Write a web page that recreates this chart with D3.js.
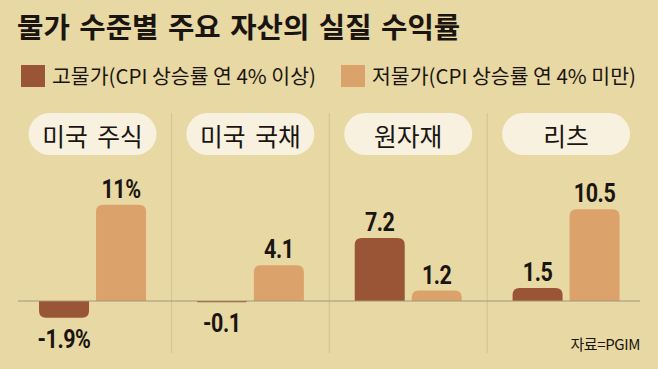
<!DOCTYPE html>
<html>
<head>
<meta charset="utf-8">
<script src="https://cdn.jsdelivr.net/npm/d3@7"></script>
<style>
  html, body { margin: 0; padding: 0; background: #e8d8a3; }
  svg { display: block; }
</style>
</head>
<body>
<div id="chart"></div>
<script>
// 자산군과 물가 구간별 실질 수익률(%)
const categories = ["미국 주식", "미국 국채", "원자재", "리츠"];
const seriesNames = ["고물가(CPI 상승률 연 4% 이상)", "저물가(CPI 상승률 연 4% 미만)"];
const highInflation = [-1.9, -0.1, 7.2, 1.5];
const lowInflation = [11, 4.1, 1.2, 10.5];
const highLabels = ["-1.9%", "-0.1", "7.2", "1.5"];
const lowLabels = ["11%", "4.1", "1.2", "10.5"];

const width = 658, height = 369;
const colors = ["#995535", "#dba36b"];
const fontKr = "'Noto Sans CJK KR', 'Noto Sans', sans-serif";
const fontNum = "Roboto, 'Liberation Sans', sans-serif";

const svg = d3.select("#chart").append("svg")
  .attr("width", width)
  .attr("height", height);

svg.append("rect")
  .attr("width", width).attr("height", height)
  .attr("fill", "#e8d8a3");

// 글자 폭을 원본에 맞춰 글꼴 크기 조정
function fitSize(sel, target) {
  const fs = +sel.attr("font-size");
  const w = sel.node().getBBox().width;
  if (w > 0) sel.attr("font-size", fs * target / w);
  return +sel.attr("font-size");
}

// 제목
const title = svg.append("text")
  .attr("x", 17).attr("y", 38)
  .attr("font-family", fontKr)
  .attr("font-weight", 700)
  .attr("font-size", 26)
  .attr("word-spacing", 3)
  .attr("fill", "#1a1510")
  .text("물가 수준별 주요 자산의 실질 수익률");
fitSize(title, 445);

// 범례
const legend = svg.append("g");
const legendX = [21, 341];
seriesNames.forEach((name, i) => {
  legend.append("rect")
    .attr("x", legendX[i]).attr("y", 65)
    .attr("width", 24).attr("height", 22)
    .attr("fill", colors[i]);
  const t = legend.append("text")
    .attr("x", legendX[i] + 31).attr("y", 84)
    .attr("font-family", fontKr)
    .attr("font-size", 20)
    .attr("fill", "#1a1510")
    .text(name);
  fitSize(t, 264);
});

// 스케일
const x = d3.scaleBand()
  .domain(categories)
  .range([13.6, 645]);

const xInner = d3.scaleBand()
  .domain([0, 1])
  .range([-53.5, 53.5])
  .paddingInner(7 / 57);

const y = d3.scaleLinear()
  .domain([-2, 12])
  .range([318.5, 196]);

// 구분선
svg.selectAll("line.divider")
  .data(categories.slice(1))
  .enter()
  .append("line")
  .attr("class", "divider")
  .attr("x1", d => x(d)).attr("x2", d => x(d))
  .attr("y1", 113).attr("y2", 353)
  .attr("stroke", "#d3c292")
  .attr("stroke-width", 1);

// 자산 이름 라벨
const pills = svg.selectAll("g.pill")
  .data(categories)
  .enter()
  .append("g")
  .attr("class", "pill")
  .attr("transform", d => `translate(${x(d) + x.bandwidth() / 2},0)`);

pills.append("rect")
  .attr("x", -64).attr("y", 113)
  .attr("width", 128).attr("height", 42)
  .attr("rx", 21)
  .attr("fill", "#f8f1e0");

const pillText = pills.append("text")
  .attr("y", 135)
  .attr("text-anchor", "middle")
  .attr("dominant-baseline", "central")
  .attr("font-family", fontKr)
  .attr("font-size", 23)
  .attr("word-spacing", 4)
  .attr("fill", "#1a1510")
  .text(d => d);
const pillSize = fitSize(d3.select(pillText.nodes()[0]), 101);
pillText.attr("font-size", pillSize);

// 막대 (바깥쪽 모서리만 둥글게)
function barPath(x0, w, v) {
  const y0 = y(0), y1 = y(v);
  const h = Math.abs(y1 - y0);
  const r = Math.min(7, h, w / 2);
  if (v >= 0) {
    return `M${x0},${y0} V${y1 + r} Q${x0},${y1} ${x0 + r},${y1} H${x0 + w - r} Q${x0 + w},${y1} ${x0 + w},${y1 + r} V${y0} Z`;
  }
  return `M${x0},${y0} V${y1 - r} Q${x0},${y1} ${x0 + r},${y1} H${x0 + w - r} Q${x0 + w},${y1} ${x0 + w},${y1 - r} V${y0} Z`;
}

const bars = [];
categories.forEach((c, i) => {
  bars.push({ cat: c, s: 0, v: highInflation[i], label: highLabels[i] });
  bars.push({ cat: c, s: 1, v: lowInflation[i], label: lowLabels[i] });
});

const bx = d => x(d.cat) + x.bandwidth() / 2 + xInner(d.s);

svg.selectAll("path.bar")
  .data(bars)
  .enter()
  .append("path")
  .attr("class", "bar")
  .attr("d", d => {
    const v = Math.abs(y(d.v) - y(0)) < 1.2 ? (d.v < 0 ? -1.2 / 8.75 : 1.2 / 8.75) : d.v;
    return barPath(bx(d), xInner.bandwidth(), v);
  })
  .attr("fill", d => colors[d.s]);

// 기준선
svg.append("line")
  .attr("x1", 18).attr("x2", 640)
  .attr("y1", y(0)).attr("y2", y(0))
  .attr("stroke", "#a2967a")
  .attr("stroke-width", 1);

// 값 라벨 (좁은 숫자체 느낌으로 가로 압축)
svg.selectAll("text.value")
  .data(bars)
  .enter()
  .append("text")
  .attr("class", "value")
  .attr("transform", d => {
    const tx = bx(d) + xInner.bandwidth() / 2;
    const ty = d.v >= 0 ? y(d.v) - 7 : y(d.v) + 30;
    return `translate(${tx},${ty}) scale(0.86,1)`;
  })
  .attr("text-anchor", "middle")
  .attr("font-family", fontNum)
  .attr("font-weight", 700)
  .attr("font-size", 25)
  .attr("letter-spacing", -0.5)
  .attr("fill", "#1a1510")
  .text(d => d.label);

// 출처
svg.append("text")
  .attr("x", 640).attr("y", 350)
  .attr("text-anchor", "end")
  .attr("font-family", fontKr)
  .attr("font-size", 15)
  .attr("letter-spacing", -0.4)
  .attr("fill", "#1a1510")
  .text("자료=PGIM");
</script>
</body>
</html>
